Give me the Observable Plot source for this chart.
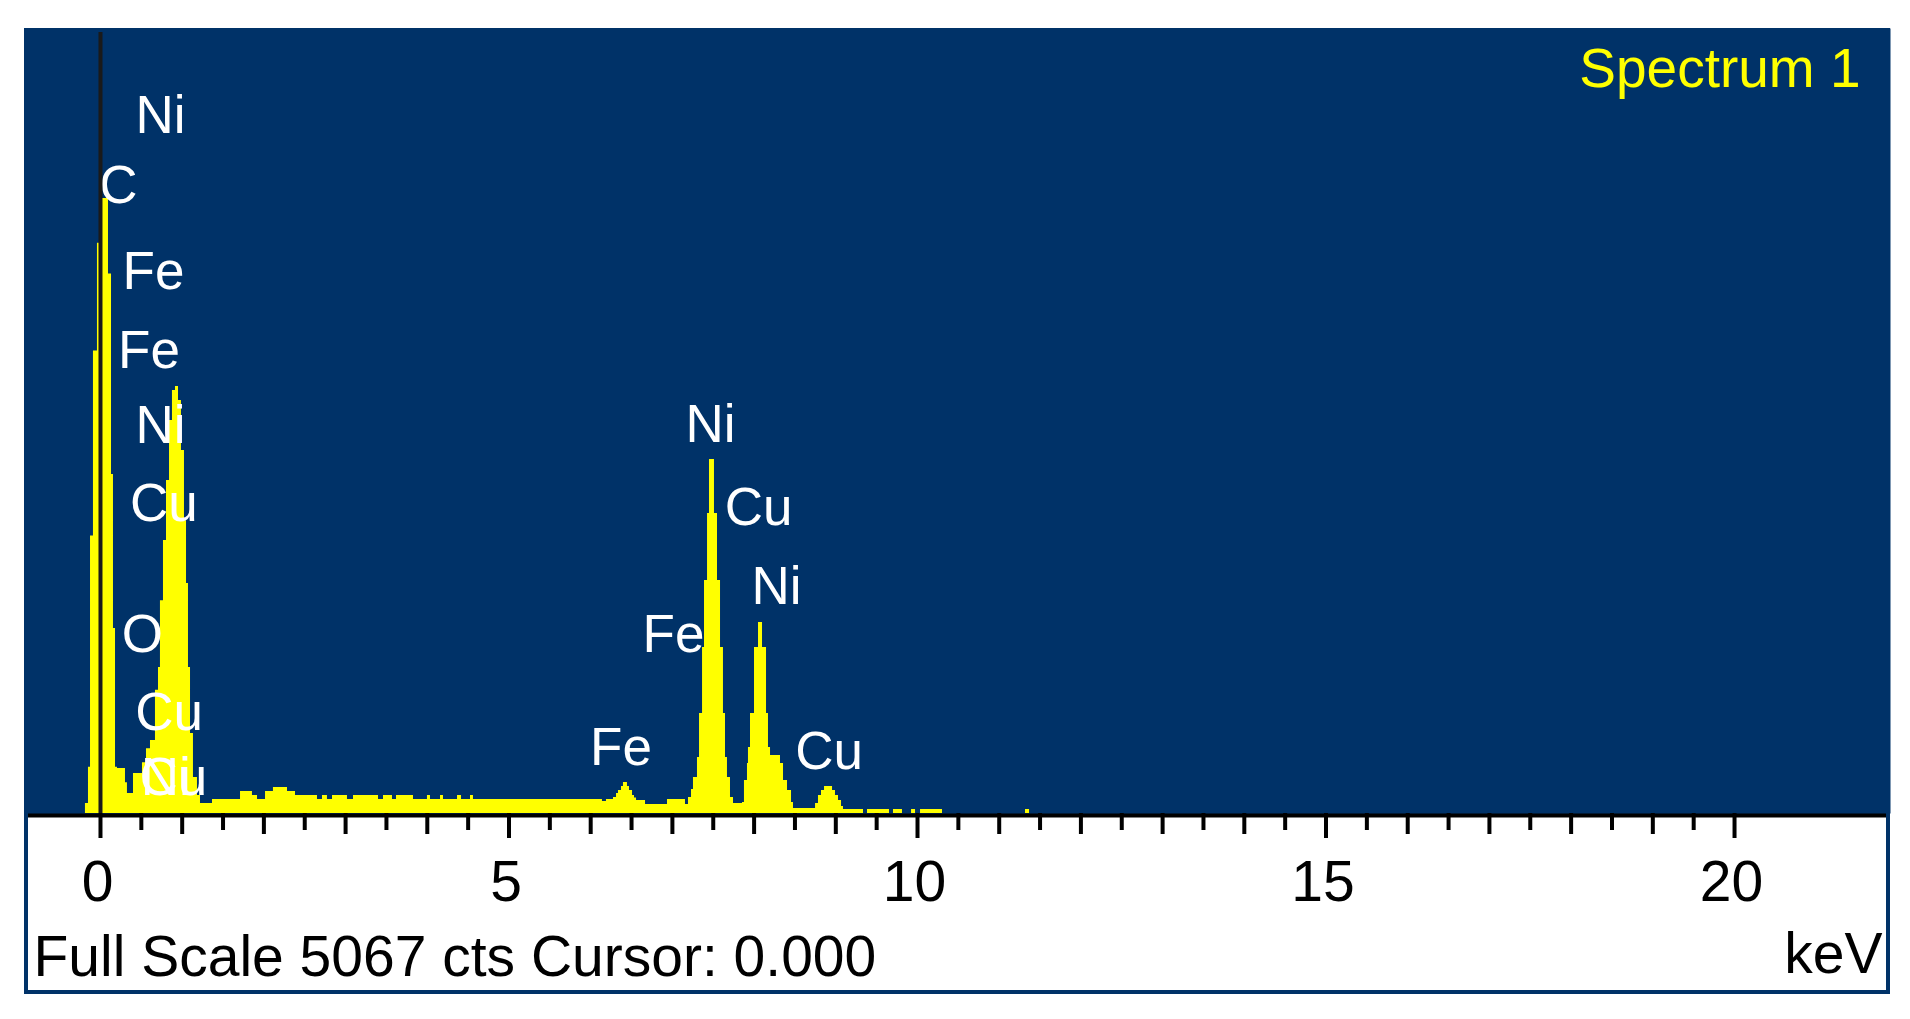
<!DOCTYPE html>
<html>
<head>
<meta charset="utf-8">
<script src="https://cdn.jsdelivr.net/npm/d3@7"></script>
<script src="https://cdn.jsdelivr.net/npm/@observablehq/plot@0.6"></script>
<style>
  html, body { margin: 0; padding: 0; background: #ffffff; }
  #wrap { position: relative; width: 1910px; height: 1019px; overflow: hidden; }
  #outer { position: absolute; left: 24px; top: 28px; width: 1866px; height: 966px; background: #003268; }
  #inner { position: absolute; left: 28px; top: 817px; width: 1858px; height: 173px; background: #ffffff; }
  #chart { position: absolute; left: 0; top: 0; }
</style>
</head>
<body>
<div id="wrap">
  <div id="outer"></div>
  <div id="inner"></div>
  <div id="chart"></div>
</div>
<script>
// ---- spectrum (energy in keV, counts per channel) ----
const energy = [
  -0.245, -0.184, -0.147, -0.122, -0.086, -0.037, 0.012, 0.061, 0.098, 0.135,
  0.159, 0.184, 0.208, 0.306, 0.330, 0.367, 0.404, 0.514, 0.563, 0.612,
  0.673, 0.710, 0.734, 0.771, 0.808, 0.845, 0.881, 0.918, 0.955, 0.991,
  1.028, 1.053, 1.077, 1.102, 1.138, 1.187, 1.224, 1.371, 1.714, 1.860,
  1.922, 2.020, 2.117, 2.289, 2.387, 2.656, 2.717, 2.778, 2.840, 3.023,
  3.097, 3.403, 3.464, 3.574, 3.623, 3.831, 4.002, 4.039, 4.162, 4.198,
  4.370, 4.419, 4.529, 4.565, 6.144, 6.193, 6.279, 6.316, 6.340, 6.377,
  6.401, 6.450, 6.475, 6.512, 6.536, 6.561, 6.671, 6.940, 7.160, 7.197,
  7.234, 7.258, 7.307, 7.332, 7.369, 7.393, 7.430, 7.454, 7.515, 7.552,
  7.589, 7.625, 7.650, 7.674, 7.711, 7.748, 7.858, 7.882, 7.919, 7.931,
  7.956, 8.005, 8.054, 8.103, 8.152, 8.176, 8.201, 8.323, 8.360, 8.409,
  8.458, 8.482, 8.752, 8.788, 8.825, 8.862, 8.960, 8.996, 9.033, 9.070,
  9.094, 9.339, 9.388, 9.657, 9.706, 9.816, 9.927, 9.976, 10.037, 10.306,
  11.322, 11.371, 21.909
];
const counts = [
  0, 65, 300, 1800, 3000, 3700, 3990, 3990, 3500, 2200,
  1200, 300, 292, 200, 130, 130, 260, 330, 420, 474,
  800, 947, 1380, 1771, 2160, 2550, 2744, 2770, 2680, 2355,
  1900, 1492, 947, 519, 234, 117, 65, 91, 143, 117,
  91, 143, 169, 143, 117, 91, 117, 91, 117, 91,
  117, 91, 117, 91, 117, 91, 117, 91, 117, 91,
  117, 91, 117, 91, 78, 91, 104, 130, 150, 175,
  201, 175, 150, 117, 100, 85, 58, 91, 58, 104,
  156, 234, 363, 649, 1077, 1512, 1946, 2297, 1946, 1512,
  1077, 649, 363, 234, 104, 65, 71, 214, 324, 428,
  649, 1077, 1239, 1077, 649, 428, 376, 324, 214, 150,
  71, 32, 65, 117, 150, 175, 150, 117, 85, 45,
  26, 0, 26, 0, 26, 0, 26, 0, 26, 0,
  26, 0, 0
];

// ---- element line labels ----
const labelText   = ["Ni", "C", "Fe", "Fe", "Ni", "Cu", "O", "Cu", "Cu", "Ni",
                     "Ni", "Cu", "Ni", "Fe", "Fe", "Cu"];
const labelEnergy = [0.734, 0.220, 0.649, 0.594, 0.734, 0.777, 0.514, 0.839, 0.893, 0.800,
                     7.467, 8.054, 8.274, 7.013, 6.371, 8.917];
const labelCounts = [4525, 4074, 3513, 3000, 2517, 2008, 1161, 655, 230, 230,
                     2521, 1982, 1469, 1158, 422, 399];

// ---- axis ticks ----
const majorTicks = [0, 5, 10, 15, 20];
const unitTicks  = [1, 2, 3, 4, 6, 7, 8, 9, 11, 12, 13, 14, 16, 17, 18, 19];
const halfTicks  = [0.5, 1.5, 2.5, 3.5, 4.5, 5.5, 6.5, 7.5, 8.5, 9.5,
                    10.5, 11.5, 12.5, 13.5, 14.5, 15.5, 16.5, 17.5, 18.5, 19.5];

// ---- texts ----
const spectrumTitle = "Spectrum 1";
const fullScale = 5067;
const cursorValue = 0.000;
const unitText = "keV";
const captionText = `Full Scale ${fullScale} cts Cursor: ${cursorValue.toFixed(3)}`;

const spectrum = energy.map((e, i) => ({keV: e, cts: counts[i]}));
const labels = labelText.map((t, i) => ({name: t, keV: labelEnergy[i], cts: labelCounts[i]}));

const BLUE = "#003268";
const FONT = "'Liberation Sans', Arial, 'DejaVu Sans', sans-serif";

const chart = Plot.plot({
  width: 1910,
  height: 1019,
  marginLeft: 24,
  marginRight: 20,
  marginTop: 28,
  marginBottom: 206,
  style: {background: "transparent", fontFamily: FONT, overflow: "visible"},
  x: {domain: [-0.930, 21.909], label: null},
  y: {domain: [0, 5093], axis: null},
  marks: [
    Plot.frame({fill: BLUE, stroke: null}),
    Plot.areaY(spectrum, {x: "keV", y: "cts", curve: "step-after", fill: "#ffff00"}),
    Plot.text(labels, {x: "keV", y: "cts", text: "name", fill: "#ffffff", fontSize: 53,
                       textAnchor: "middle", lineAnchor: "middle"}),
    Plot.ruleX([cursorValue], {y1: 0, y2: fullScale, stroke: "#1a1a1a", strokeWidth: 4}),
    Plot.ruleY([0], {stroke: "#000000", strokeWidth: 4, dy: 2, insetLeft: 4, insetRight: 4}),
    Plot.axisX(majorTicks, {tickSize: 25, tickFormat: () => "", label: null, stroke: "#000", strokeWidth: 4}),
    Plot.axisX(unitTicks, {tickSize: 21, tickFormat: () => "", label: null, stroke: "#000", strokeWidth: 4}),
    Plot.axisX(halfTicks, {tickSize: 17, tickFormat: () => "", label: null, stroke: "#000", strokeWidth: 4}),
    Plot.axisX(majorTicks, {tickSize: 0, tickPadding: 47, fontSize: 57, dx: -3, label: null,
                            fill: "#000", tickFormat: d => String(d)}),
    Plot.text([spectrumTitle], {frameAnchor: "top-right", text: d => d, dx: -30, dy: 19,
                                textAnchor: "end", lineAnchor: "top", fontSize: 55, fill: "#ffff00"}),
    Plot.text([captionText], {frameAnchor: "bottom-left", text: d => d, dx: 9, dy: 122,
                              textAnchor: "start", lineAnchor: "top", fontSize: 57, fill: "#000"}),
    Plot.text([unitText], {frameAnchor: "bottom-right", text: d => d, dx: -8, dy: 119,
                           textAnchor: "end", lineAnchor: "top", fontSize: 57, fill: "#000"})
  ]
});
document.getElementById("chart").appendChild(chart);
</script>
</body>
</html>
